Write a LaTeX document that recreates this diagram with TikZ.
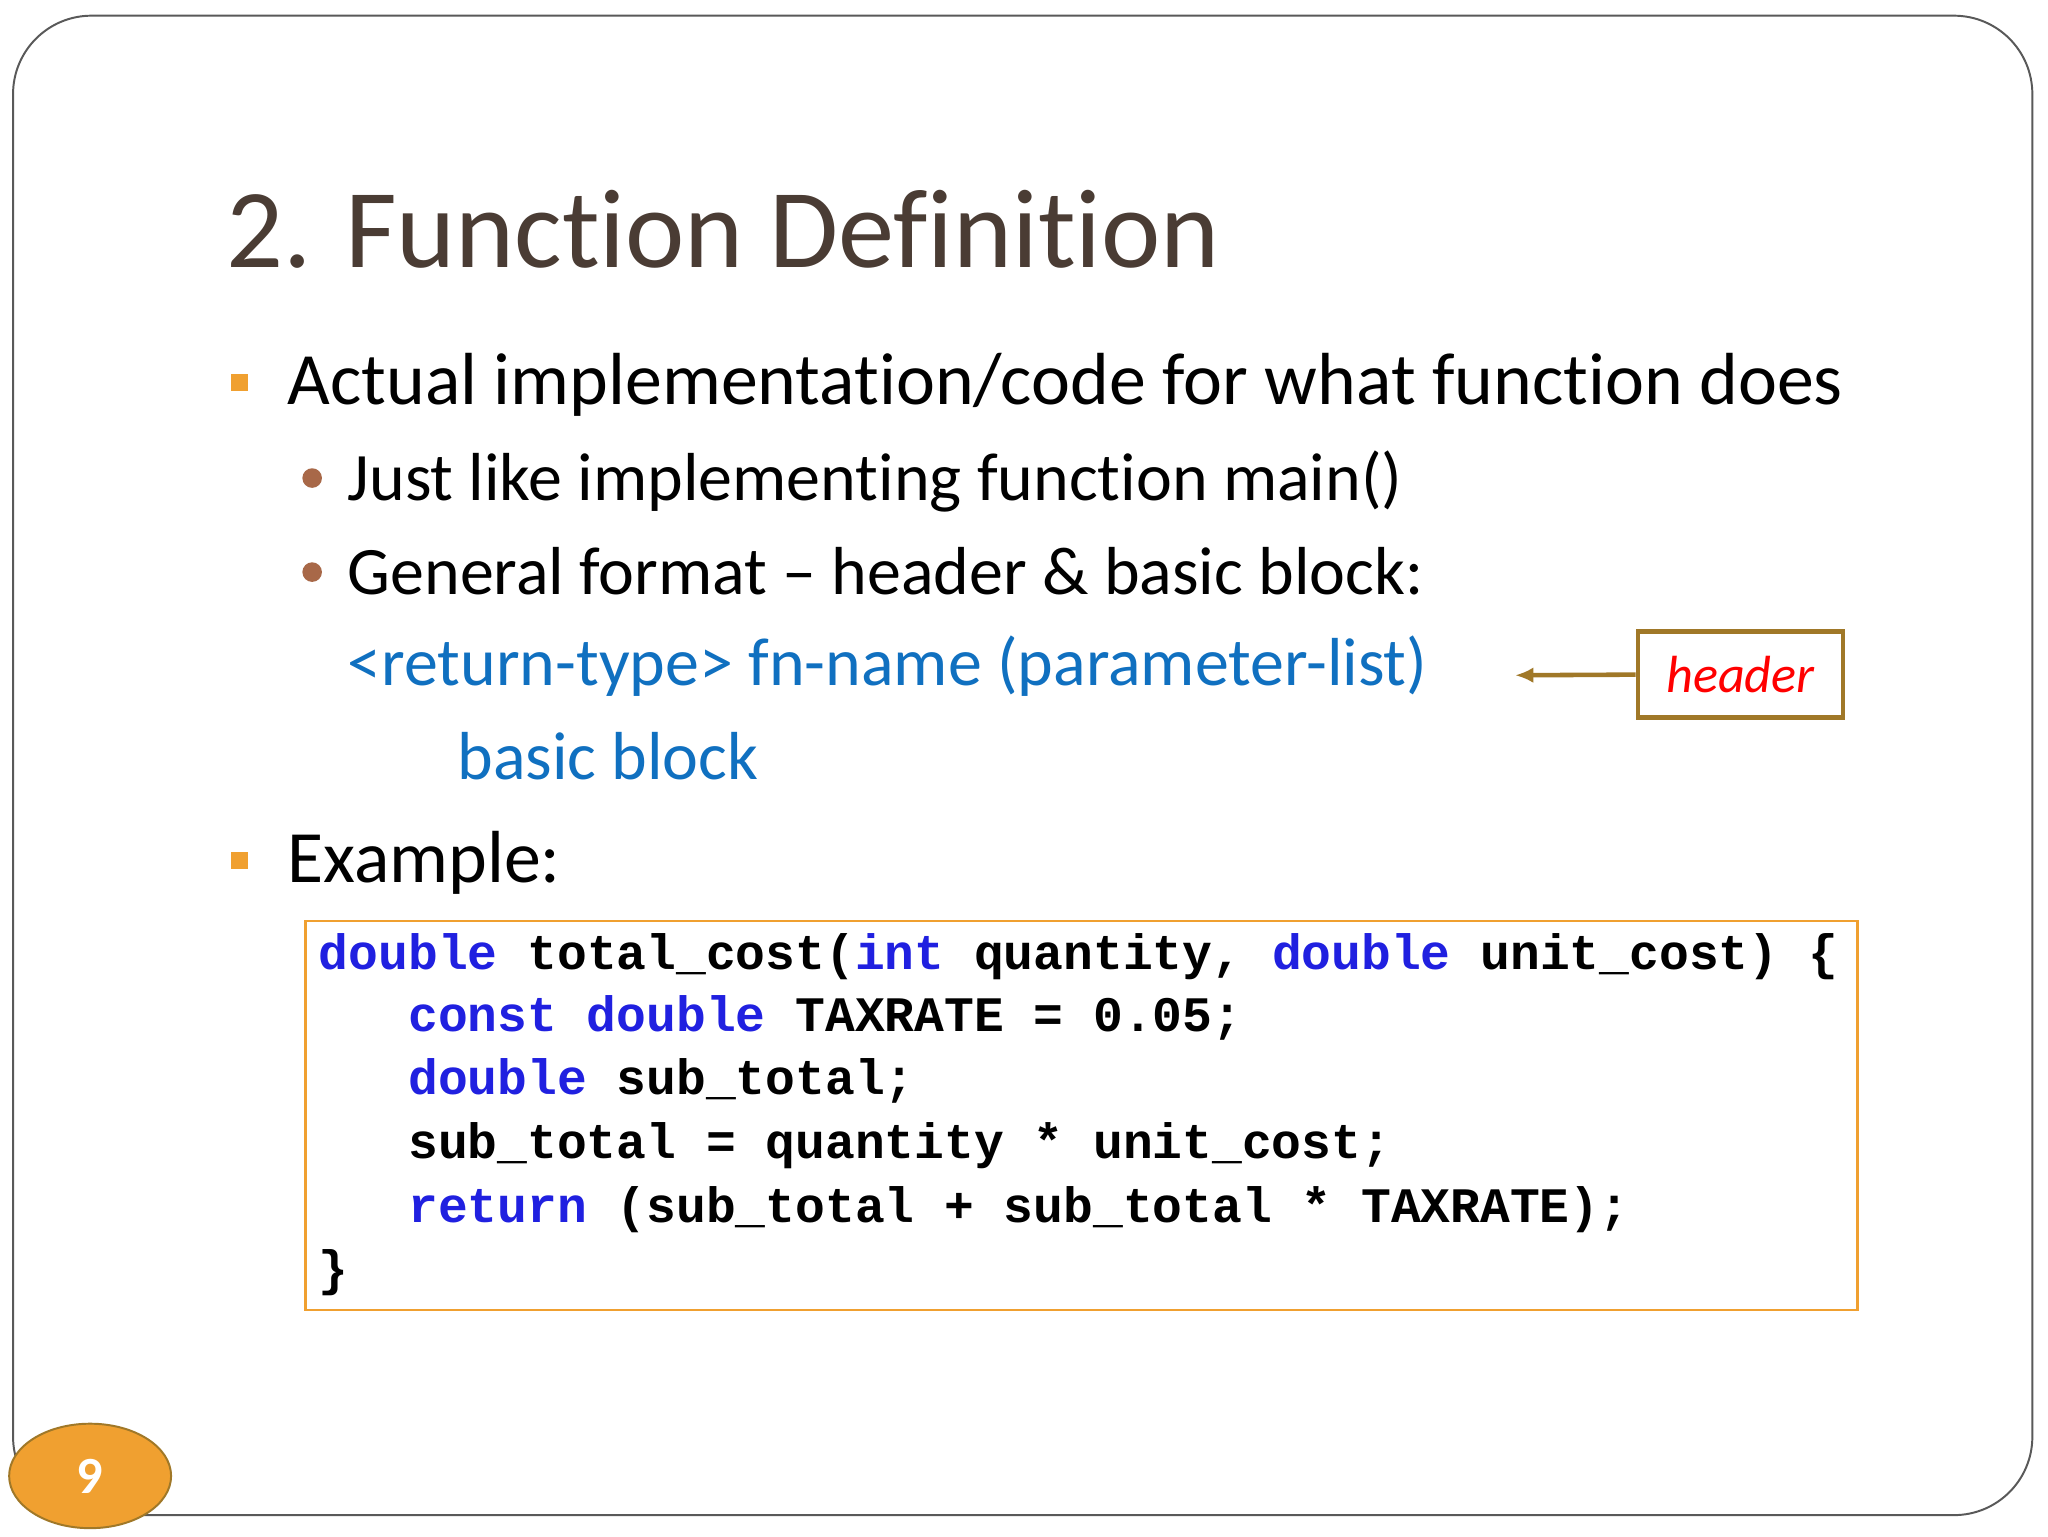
\documentclass[tikz,border=0pt]{standalone}
\usepackage{fontspec}
\usetikzlibrary{arrows.meta,shapes.geometric}
\setmainfont{Carlito}[Ligatures={NoCommon,TeX}]
\newfontfamily\codefont{Liberation Mono}
\definecolor{titlec}{HTML}{4A3C34}
\definecolor{orangec}{HTML}{F0A030}
\definecolor{bluec}{HTML}{1070C0}
\definecolor{kwc}{HTML}{2020E0}
\definecolor{brownc}{HTML}{A07828}
\definecolor{dotc}{HTML}{A86848}
\begin{document}
\begin{tikzpicture}[x=1pt,y=-1pt,
  txt/.style={anchor=base west,inner sep=0pt},
  code/.style={anchor=base west,inner sep=0pt,font=\codefont\bfseries\fontsize{38}{44}\selectfont},
  sq/.style={fill=orangec,minimum size=13pt,inner sep=0pt},
  dot/.style={circle,fill=dotc,minimum size=15pt,inner sep=0pt}]
\useasboundingbox (0,0) rectangle (1568,1176);
\fill[white] (0,0) rectangle (1568,1176);
\draw[line width=1.5pt,gray!70!black,rounded corners=60pt] (10,12) rectangle (1556,1160);
\node[txt,text=titlec,font=\fontsize{86}{100}\selectfont] (title) at (173,205) {2. Function Definition};
\node[sq] (s1) at (183,293) {};
\node[txt,font=\fontsize{56.5}{64}\selectfont] (l1) at (220,310) {Actual implementation/code for what function does};
\node[dot] (d1) at (239,366) {};
\node[txt,font=\fontsize{52}{60}\selectfont] (l2) at (266,383) {Just like implementing function main()};
\node[dot] (d2) at (239,438) {};
\node[txt,font=\fontsize{52}{60}\selectfont] (l3) at (266,455) {General format -- header \& basic block:};
\node[txt,text=bluec,font=\fontsize{52}{60}\selectfont] (l4) at (266,525) {<return-type> fn-name (parameter-list)};
\node[txt,text=bluec,font=\fontsize{52}{60}\selectfont] (l5) at (350,597) {basic block};
\node[sq] (s2) at (183,659) {};
\node[txt,font=\fontsize{56.5}{64}\selectfont] (l6) at (220,676) {Example:};
\node[draw=brownc,line width=3.5pt,minimum width=157pt,minimum height=66pt,inner sep=0pt,text=red,font=\itshape\fontsize{40}{46}\selectfont] (hdr) at (1332.5,516.5) {header};
\coordinate (tip) at (1160,517);
\draw[brownc,line width=3.5pt,-{Latex[length=14pt,width=12pt]}] (hdr.west) -- (tip);
\node[draw=orangec,line width=2pt,minimum width=1188pt,minimum height=298pt,inner sep=0pt] (box) at (828,854) {};
\node[code] (c1) at (244,742) {\textcolor{kwc}{double} total\_cost(\textcolor{kwc}{int} quantity, \textcolor{kwc}{double} unit\_cost) \{};
\node[code] (c2) at (244,790) {\phantom{abc}\textcolor{kwc}{const double} TAXRATE = 0.05;};
\node[code] (c3) at (244,838) {\phantom{abc}\textcolor{kwc}{double} sub\_total;};
\node[code] (c4) at (244,887) {\phantom{abc}sub\_total = quantity * unit\_cost;};
\node[code] (c5) at (244,936) {\phantom{abc}\textcolor{kwc}{return} (sub\_total + sub\_total * TAXRATE);};
\node[code] (c6) at (244,984) {\}};
\node[ellipse,draw=brownc,fill=orangec,line width=1.5pt,minimum width=124pt,minimum height=80pt,text=white,font=\bfseries\fontsize{40}{44}\selectfont] (pg) at (69,1130) {9};
\end{tikzpicture}
\end{document}
